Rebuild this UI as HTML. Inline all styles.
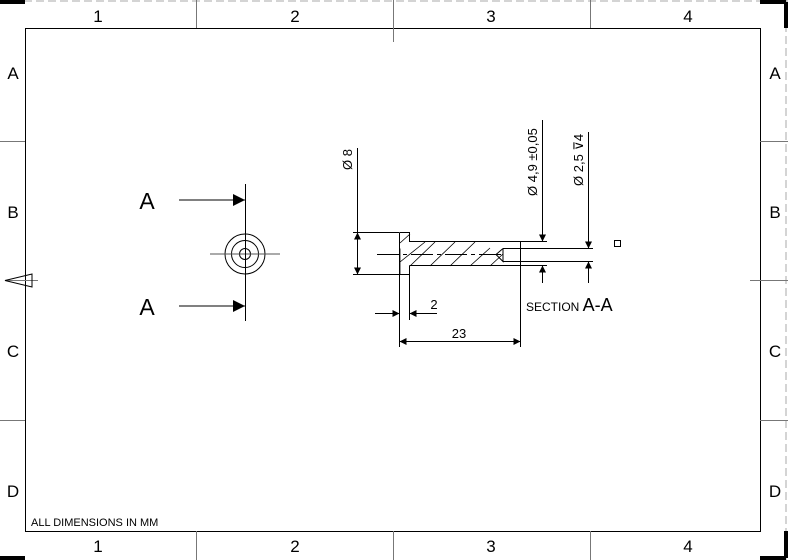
<!DOCTYPE html>
<html><head><style>body{margin:0;background:#fff}svg{display:block}text{font-family:"Liberation Sans",sans-serif;fill:#000}</style></head>
<body>
<svg width="788" height="560" viewBox="0 0 788 560" xmlns="http://www.w3.org/2000/svg">
<defs>
<marker id="ah" viewBox="0 0 10 10" refX="10" refY="5" markerWidth="11" markerHeight="7" markerUnits="userSpaceOnUse" orient="auto"><path d="M0,0L10,5L0,10z" fill="#000"/></marker>
<marker id="big" viewBox="0 0 10 10" refX="10" refY="5" markerWidth="18" markerHeight="12" markerUnits="userSpaceOnUse" orient="auto"><path d="M0,0L10,5L0,10z" fill="#000"/></marker>
</defs>
<g stroke="#aaa" stroke-width="1" stroke-dasharray="8,4" fill="none">
<line x1="0" y1="1" x2="788" y2="1"/>
<line x1="786" y1="0" x2="786" y2="560"/>
</g>
<g stroke="#000" stroke-width="4" fill="none">
<line x1="0" y1="2" x2="25" y2="2"/><line x1="760" y1="2" x2="786" y2="2"/><line x1="786" y1="2" x2="786" y2="28"/>
<line x1="0" y1="558" x2="25" y2="558"/>
<line x1="786" y1="531" x2="786" y2="558"/><line x1="760" y1="558" x2="786" y2="558"/>
</g>
<rect x="25.5" y="28.5" width="735" height="503" fill="none" stroke="#000" stroke-width="1"/>
<g stroke="#777" stroke-width="1">
<line x1="196.5" y1="0" x2="196.5" y2="28"/><line x1="393.5" y1="0" x2="393.5" y2="42"/><line x1="590.5" y1="0" x2="590.5" y2="28"/>
<line x1="196.5" y1="531" x2="196.5" y2="560"/><line x1="393.5" y1="531" x2="393.5" y2="560"/><line x1="590.5" y1="531" x2="590.5" y2="560"/>
<line x1="0" y1="141.5" x2="25" y2="141.5"/><line x1="0" y1="420.5" x2="25" y2="420.5"/>
<line x1="760" y1="141.5" x2="788" y2="141.5"/><line x1="760" y1="420.5" x2="788" y2="420.5"/><line x1="750" y1="280.5" x2="788" y2="280.5"/>
<line x1="5" y1="280.5" x2="38" y2="280.5"/>
</g>
<path d="M5,280.5L32,274L32,287z" fill="none" stroke="#000"/>
<g font-size="17" text-anchor="middle">
<text x="98" y="22">1</text><text x="295" y="22">2</text><text x="491" y="22">3</text><text x="688" y="22">4</text>
<text x="98" y="552">1</text><text x="295" y="552">2</text><text x="491" y="552">3</text><text x="688" y="552">4</text>
<text x="13" y="79">A</text><text x="13" y="218">B</text><text x="13" y="357">C</text><text x="13" y="497">D</text>
<text x="775" y="79">A</text><text x="775" y="218">B</text><text x="775" y="357">C</text><text x="775" y="497">D</text>
</g>
<text x="31" y="526" font-size="11">ALL DIMENSIONS IN MM</text>
<g stroke="#000" stroke-width="1" fill="none">
<circle cx="245" cy="254" r="20"/><circle cx="245" cy="254" r="13.5"/><circle cx="245" cy="254" r="5.5"/>
<line x1="210" y1="254" x2="280" y2="254" stroke="#555"/>
<line x1="245.5" y1="184" x2="245.5" y2="321"/>
<line x1="179" y1="200" x2="245" y2="200" marker-end="url(#big)"/>
<line x1="179" y1="306" x2="245" y2="306" marker-end="url(#big)"/>
</g>
<text x="147" y="209" font-size="23" text-anchor="middle">A</text>
<text x="147" y="315" font-size="23" text-anchor="middle">A</text>
<g stroke="#000" stroke-width="1" fill="none">
<path d="M399.5,232.5H409.5V241.5H547M409.5,265.5H547M399.5,232.5V274.5H409.5V265.5"/>
<path d="M503,248.5H593M503,261.5H593M503,248.5V261.5L496,254.5L503,248.5"/>
<line x1="520.5" y1="241" x2="520.5" y2="347"/>
<line x1="399.5" y1="274" x2="399.5" y2="347"/>
<line x1="409.5" y1="274" x2="409.5" y2="320"/>
<line x1="377" y1="254.5" x2="503" y2="254.5" stroke-dasharray="22,4,4,4"/>
<g stroke-width="0.8">
<path d="M400,243L410,234M400,262L425,242M410,266L435,242M430,266L455,242M450,266L475,242M470,266L490,248M490,266L503,254M400,248.5V274"/>
</g>
<line x1="353" y1="232.5" x2="399" y2="232.5"/><line x1="353" y1="274.5" x2="399" y2="274.5"/>
<line x1="357.5" y1="148" x2="357.5" y2="274"/>
<line x1="357.5" y1="252" x2="357.5" y2="232.5" marker-end="url(#ah)"/>
<line x1="357.5" y1="255" x2="357.5" y2="274.5" marker-end="url(#ah)"/>
<line x1="542.5" y1="120" x2="542.5" y2="241.5" marker-end="url(#ah)"/>
<line x1="542.5" y1="283" x2="542.5" y2="265.5" marker-end="url(#ah)"/>
<line x1="588.5" y1="132" x2="588.5" y2="248.5" marker-end="url(#ah)"/>
<line x1="588.5" y1="283" x2="588.5" y2="261.5" marker-end="url(#ah)"/>
<line x1="375" y1="313.5" x2="399.5" y2="313.5" marker-end="url(#ah)"/>
<line x1="437" y1="313.5" x2="409.5" y2="313.5" marker-end="url(#ah)"/>
<line x1="460" y1="341.5" x2="399.5" y2="341.5" marker-end="url(#ah)"/>
<line x1="460" y1="341.5" x2="520.5" y2="341.5" marker-end="url(#ah)"/>
<rect x="614.5" y="240.5" width="6" height="6"/>
</g>
<text x="434" y="309" font-size="13" text-anchor="middle">2</text>
<text x="459" y="338" font-size="13" text-anchor="middle">23</text>
<text x="526" y="311" font-size="12">SECTION <tspan font-size="18">A-A</tspan></text>
<text transform="translate(352,170) rotate(-90)" font-size="13">Ø 8</text>
<text transform="translate(537,196) rotate(-90)" font-size="13">Ø 4,9  ±0,05</text>
<text transform="translate(583,186) rotate(-90)" font-size="13">Ø 2,5 <tspan font-family="DejaVu Sans">⊽</tspan>4</text>
</svg>
</body></html>
